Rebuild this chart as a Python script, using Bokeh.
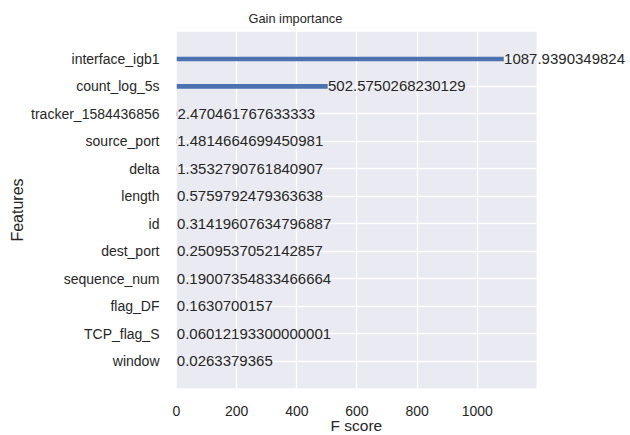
from bokeh.plotting import figure
from bokeh.models import ColumnDataSource, LabelSet, Range1d, Title
from bokeh.core.properties import value
from bokeh.embed import file_html
from bokeh.resources import INLINE

# Data (bottom to top, as plotted)
features = ["window", "TCP_flag_S", "flag_DF", "sequence_num", "dest_port", "id",
            "length", "delta", "source_port", "tracker_1584436856", "count_log_5s",
            "interface_igb1"]
scores = [0.0263379365, 0.06012193300000001, 0.1630700157, 0.19007354833466664,
          0.2509537052142857, 0.31419607634796887, 0.5759792479363638,
          1.3532790761840907, 1.4814664699450981, 2.470461767633333,
          502.5750268230129, 1087.9390349824]
score_labels = [str(v) for v in scores]
x_ticks = [0, 200, 400, 600, 800, 1000]

FONT = "Liberation Sans"
TXT = "#262626"
BG = "#EAEAF2"

LEFT = 176
AX_W = 360          # width of the shaded axes area (px)
FRAME_W = 630 - LEFT  # frame extends to the right edge so labels are not clipped
FRAME_H = 357

n = len(features)
xmax = max(scores) * 1.1
x_end = xmax * FRAME_W / AX_W

ypos = list(range(n))
src = ColumnDataSource(dict(y=ypos, score=scores, label=score_labels,
                            lx=[v + 1 for v in scores]))

p = figure(frame_width=FRAME_W, frame_height=FRAME_H,
           output_backend="svg", toolbar_location=None,
           x_range=Range1d(0, x_end), y_range=Range1d(-1, n),
           min_border_left=LEFT, min_border_right=0, min_border_top=31,
           min_border_bottom=0,
           background_fill_color="white", border_fill_color="white",
           outline_line_color=None)

# shaded axes background
p.quad(left=0, right=xmax, bottom=-1, top=n, fill_color=BG, line_color=None,
       level="image")

p.title.text = "Gain importance"
p.title.align = "left"
p.title.offset = 72
p.title.text_font = FONT
p.title.text_font_size = "12.8px"
p.title.text_font_style = "normal"
p.title.text_color = TXT
p.title.standoff = 12

p.hbar(y="y", left=0, right="score", height=0.17, source=src,
       fill_color="#4C72B0", line_color=None)

labels = LabelSet(x="lx", y="y", text="label", source=src,
                  text_font=value(FONT), text_font_size="15px", text_color=TXT,
                  text_baseline="middle", text_align="left")
p.add_layout(labels)

p.xaxis.ticker = x_ticks
p.yaxis.ticker = ypos
p.yaxis.major_label_overrides = {i: f for i, f in enumerate(features)}

for ax in (p.xaxis[0], p.yaxis[0]):
    ax.axis_line_color = None
    ax.major_tick_line_color = None
    ax.minor_tick_line_color = None
    ax.major_label_text_font = FONT
    ax.major_label_text_font_size = "14px"
    ax.major_label_text_color = TXT
    ax.axis_label_text_font = FONT
    ax.axis_label_text_font_style = "normal"
    ax.axis_label_text_color = TXT

p.yaxis.axis_label = "Features"
p.yaxis.axis_label_text_font_size = "16px"
p.xaxis.major_label_standoff = 11
p.yaxis.major_label_standoff = 11
p.yaxis.axis_label_standoff = 2

# x-axis label centred under the shaded axes area
xlabel = Title(text="F score", align="left", vertical_align="top", offset=154,
               standoff=-4, text_font=FONT, text_font_size="15.5px",
               text_font_style="normal", text_color=TXT)
p.add_layout(xlabel, "below")

p.xgrid.grid_line_color = "white"
p.xgrid.grid_line_width = 1.3
p.ygrid.grid_line_color = "white"
p.ygrid.grid_line_width = 1.3

open("out.html", "w").write(file_html(p, INLINE))
